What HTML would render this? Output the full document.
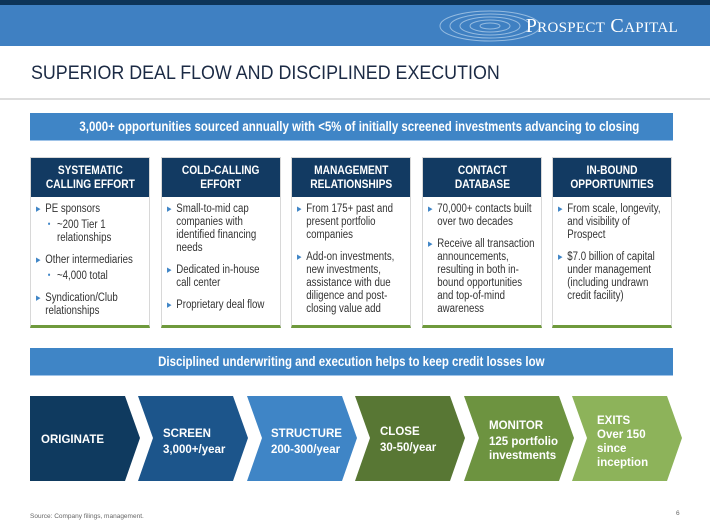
<!DOCTYPE html>
<html><head><meta charset="utf-8"><style>
*{margin:0;padding:0;box-sizing:border-box}
body{width:710px;height:532px;background:#fff;position:relative;overflow:hidden;font-family:"Liberation Sans",Arial,sans-serif}
.abs{position:absolute}
.hdr{left:0;top:0;width:710px;height:46px;background:#3f80c2;border-top:5px solid #0d3458}
.logo{right:32px;top:15px;color:#fff;font-family:"Liberation Serif",serif;font-size:20px;letter-spacing:.3px}
.logo small{font-size:15px}
.title{left:31px;top:63px;font-size:19px;color:#1b2a44;transform:scaleX(.94);transform-origin:0 0;white-space:nowrap}
.rule{left:0;top:98px;width:710px;height:2px;background:#ddd}
.ban{background:#3f85c6;color:#fff;font-weight:bold;font-size:13.5px;text-align:center;line-height:27px;border-bottom:1px solid #9fc3e8;white-space:nowrap}
.ban span{display:inline-block;transform:scaleX(.85)}
.col{width:120px;top:157px;height:171px;border:1px solid #d8d8d8;border-bottom:3px solid #6f9a3c;background:#fff;overflow:hidden}
.col .h{background:#123a62;color:#fff;font-weight:bold;font-size:12px;text-align:center;height:39px;padding-top:6px;line-height:13.5px;white-space:nowrap}
.col .h span{display:inline-block;transform:scaleX(.85)}
.col .b{padding:6px 0 0 6px;font-size:11.5px;color:#333;line-height:13px;width:134px;transform:scaleX(.84);transform-origin:0 0}
.col p{padding-left:11px;text-indent:-11px;margin-bottom:9px}
.col p:before{content:"\25B6";color:#3f85c6;font-size:7px;display:inline-block;width:11px;text-indent:0;vertical-align:1px}
.col p.s{padding-left:25px;text-indent:-11px;margin-top:-9px;padding-top:2px}
.col p.s:before{content:"\2022";font-size:9px}
.foot{left:30px;top:513px;font-size:6.5px;color:#666}
</style></head><body>
<div class="abs hdr"></div>
<svg class="abs" style="left:430px;top:4px" width="120" height="40"><g fill="none" stroke="#cfe3f5" opacity=".6"><ellipse cx="60" cy="22" rx="50" ry="15"/><ellipse cx="60" cy="22" rx="40" ry="12"/><ellipse cx="60" cy="22" rx="30" ry="9"/><ellipse cx="60" cy="22" rx="20" ry="6"/><ellipse cx="60" cy="22" rx="10" ry="3"/></g></svg>
<div class="abs logo">P<small>ROSPECT</small> C<small>APITAL</small></div>
<div class="abs title">SUPERIOR DEAL FLOW AND DISCIPLINED EXECUTION</div>
<div class="abs rule"></div>
<div class="abs ban" style="left:30px;top:113px;width:643px;height:28px"><span>3,000+ opportunities sourced annually with &lt;5% of initially screened investments advancing to closing</span></div>

<div class="abs col" style="left:30px"><div class="h"><span>SYSTEMATIC<br>CALLING EFFORT</span></div><div class="b">
<p>PE sponsors</p><p class="s">~200 Tier 1 relationships</p><p>Other intermediaries</p><p class="s">~4,000 total</p><p>Syndication/Club relationships</p></div></div>
<div class="abs col" style="left:161px"><div class="h"><span>COLD-CALLING<br>EFFORT</span></div><div class="b">
<p>Small-to-mid cap companies with identified financing needs</p><p>Dedicated in-house call center</p><p>Proprietary deal flow</p></div></div>
<div class="abs col" style="left:291px"><div class="h"><span>MANAGEMENT<br>RELATIONSHIPS</span></div><div class="b">
<p>From 175+ past and present portfolio companies</p><p>Add-on investments, new investments, assistance with due diligence and post-closing value add</p></div></div>
<div class="abs col" style="left:422px"><div class="h"><span>CONTACT<br>DATABASE</span></div><div class="b">
<p>70,000+ contacts built over two decades</p><p>Receive all transaction announcements, resulting in both in-bound opportunities and top-of-mind awareness</p></div></div>
<div class="abs col" style="left:552px"><div class="h"><span>IN-BOUND<br>OPPORTUNITIES</span></div><div class="b">
<p>From scale, longevity, and visibility of Prospect</p><p>$7.0 billion of capital under management (including undrawn credit facility)</p></div></div>

<div class="abs ban" style="left:30px;top:348px;width:643px;height:28px"><span>Disciplined underwriting and execution helps to keep credit losses low</span></div>

<svg class="abs" style="left:0;top:0" width="710" height="532">
<g font-family="Liberation Sans,Arial,sans-serif" font-weight="bold" fill="#fff" font-size="11.5">
<polygon points="30,396 125,396 140,438 125,481 30,481" fill="#0f3a5f"/>
<polygon points="138,396 233,396 248,438 233,481 138,481 153,438" fill="#1c558b"/>
<polygon points="247,396 342,396 357,438 342,481 247,481 262,438" fill="#3f85c6"/>
<polygon points="355,396 450,396 465,438 450,481 355,481 370,438" fill="#587734"/>
<polygon points="464,396 559,396 574,438 559,481 464,481 479,438" fill="#6d9340"/>
<polygon points="572,396 667,396 682,438 667,481 572,481 587,438" fill="#8db35a"/>
<text x="41" y="443">ORIGINATE</text>
<text x="163" y="437">SCREEN</text><text x="163" y="453">3,000+/year</text>
<text x="271" y="437">STRUCTURE</text><text x="271" y="453">200-300/year</text>
<text x="380" y="435">CLOSE</text><text x="380" y="451">30-50/year</text>
<text x="489" y="429">MONITOR</text><text x="489" y="445">125 portfolio</text><text x="489" y="459">investments</text>
<text x="597" y="424">EXITS</text><text x="597" y="438">Over 150</text><text x="597" y="452">since</text><text x="597" y="466">inception</text>
</g></svg>
<div class="abs foot">Source: Company filings, management.</div>
<div class="abs foot" style="left:676px;top:510px">6</div>
</body></html>
